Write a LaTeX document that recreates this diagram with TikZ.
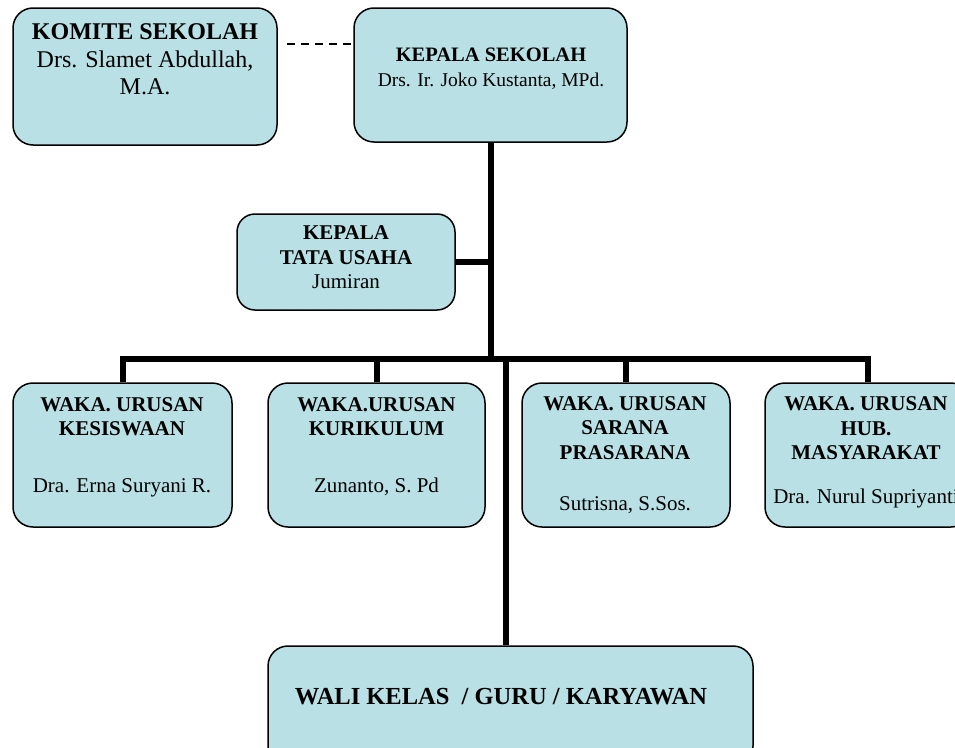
\documentclass[tikz,border=0pt]{standalone}
\usepackage{fontspec}
\setmainfont{Liberation Serif}
\definecolor{boxfill}{RGB}{185,224,228}
\begin{document}
\begin{tikzpicture}[x=1pt,y=-1pt,
  orgbox/.style={draw=black, line width=1.5pt, fill=boxfill, rounded corners=20pt, inner sep=0pt},
  link/.style={line width=6pt},
  dashlink/.style={line width=2pt, dash pattern=on 8pt off 6pt, dash phase=-4pt},
  hd/.style={font=\bfseries\fontsize{21}{25}\selectfont, anchor=base, inner sep=0pt},
  nm/.style={font=\fontsize{21}{25}\selectfont, anchor=base, inner sep=0pt}]
\useasboundingbox (0,0) rectangle (955,747);
\begin{scope}
\clip (0,0) rectangle (955,747);
% boxes
\node[orgbox, minimum width=264pt, minimum height=137pt] (kom) at (145,76.5) {};
\node[orgbox, minimum width=273pt, minimum height=134pt] (ks) at (490.5,75) {};
\node[orgbox, minimum width=218pt, minimum height=96pt, rounded corners=18pt] (ktu) at (346,262) {};
\node[orgbox, minimum width=219pt, minimum height=144pt] (w1) at (122.5,455) {};
\node[orgbox, minimum width=217pt, minimum height=144pt] (w2) at (376.5,455) {};
\node[orgbox, minimum width=208pt, minimum height=144pt] (w3) at (626,455) {};
\node[orgbox, minimum width=206pt, minimum height=144pt] (w4) at (868,455) {};
\node[orgbox, minimum width=485pt, minimum height=120pt] (bot) at (510.5,706) {};
% connectors
\coordinate (bar) at (491,359);
\draw[dashlink] ([yshift=-37pt,xshift=5pt]kom.north east) -- ([yshift=-37pt]kom.north east -| ks.west);
\draw[link] (ks.south) -- ([yshift=-3pt]ks.south |- bar);
\draw[link] (ktu.east) -- (ktu.east -| ks.south);
\draw[link] (w1.north) -- (w1.north |- bar) -- (w4.north |- bar) -- (w4.north);
\draw[link] (w2.north) -- (w2.north |- bar);
\draw[link] (w3.north) -- (w3.north |- bar);
\draw[link] ([xshift=-5pt]bot.north) -- ([xshift=-5pt]bot.north |- bar);
% texts
\node[hd, font=\bfseries\fontsize{24}{28}\selectfont] (komA) at (145,39) {KOMITE SEKOLAH};
\node[nm, font=\fontsize{24}{28}\selectfont] (komB) at (145,67) {Drs. Slamet Abdullah,};
\node[nm, font=\fontsize{24}{28}\selectfont] (komC) at (145,94) {M.A.};
\node[hd, font=\bfseries\fontsize{20.5}{25}\selectfont] (ksA) at (491,61) {KEPALA SEKOLAH};
\node[nm, font=\fontsize{19.5}{25}\selectfont] (ksB) at (491,86) {Drs. Ir. Joko Kustanta, MPd.};
\node[hd] (ktuA) at (346,239) {KEPALA};
\node[hd] (ktuB) at (346,264) {TATA USAHA};
\node[nm] (ktuC) at (346,288) {Jumiran};
\node[hd] (w1A) at (122,411) {WAKA. URUSAN};
\node[hd] (w1B) at (122,435) {KESISWAAN};
\node[nm] (w1C) at (122,492) {Dra. Erna Suryani R.};
\node[hd] (w2A) at (376.5,411) {WAKA.URUSAN};
\node[hd] (w2B) at (376.5,435) {KURIKULUM};
\node[nm] (w2C) at (376.5,492) {Zunanto, S. Pd};
\node[hd] (w3A) at (625,410) {WAKA. URUSAN};
\node[hd] (w3B) at (625,434) {SARANA};
\node[hd] (w3C) at (625,459) {PRASARANA};
\node[nm] (w3D) at (625,510) {Sutrisna, S.Sos.};
\node[hd] (w4A) at (866,410) {WAKA. URUSAN};
\node[hd] (w4B) at (866,435) {HUB.};
\node[hd] (w4C) at (866,459) {MASYARAKAT};
\node[nm] (w4D) at (866,503) {Dra. Nurul Supriyanti};
\node[hd, font=\bfseries\fontsize{24.5}{28}\selectfont] (botA) at (501,704) {WALI KELAS~~/ GURU / KARYAWAN};
\end{scope}
\end{tikzpicture}
\end{document}
